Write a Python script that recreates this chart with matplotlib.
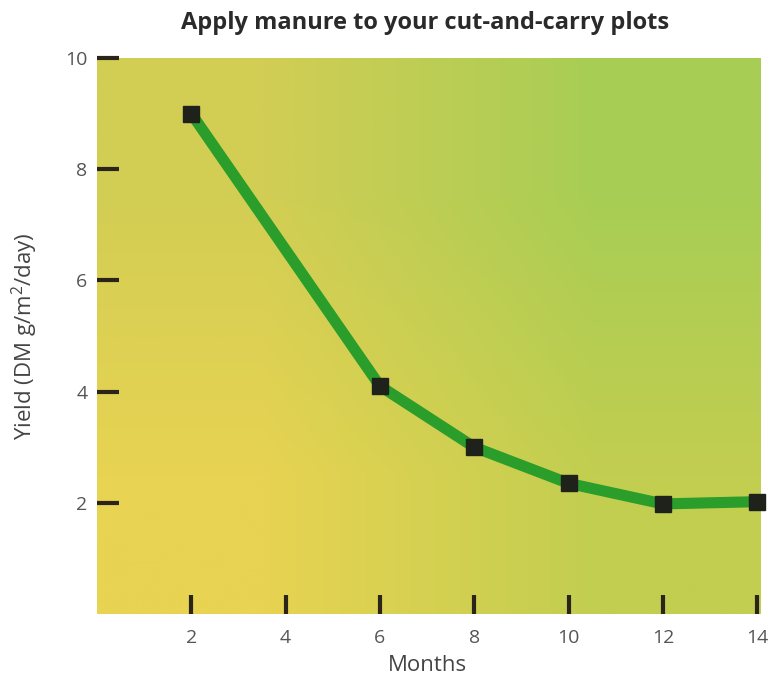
import numpy as np
import matplotlib
matplotlib.use("Agg")
import matplotlib.pyplot as plt

# data
months = [2, 6, 8, 10, 12, 14]
yield_dm = [9.0, 4.1, 3.0, 2.35, 1.98, 2.02]
x_ticks = [2, 4, 6, 8, 10, 12, 14]
y_ticks = [2, 4, 6, 8, 10]

title = "Apply manure to your cut-and-carry plots"
x_label = "Months"
y_label = "Yield (DM g/m$^2$/day)"

plt.rcParams['font.family'] = ['Open Sans', 'DejaVu Sans']
plt.rcParams['mathtext.fontset'] = 'custom'
plt.rcParams['mathtext.rm'] = 'Open Sans'

fig = plt.figure(figsize=(7.76, 6.79), dpi=100)
ax = fig.add_axes([97 / 776, 1 - 614 / 679, (761 - 97) / 776, (614 - 58) / 679])

# gradient background: yellow bottom-left -> green top-right
corners = np.array([
    [[232, 211, 82], [194, 206, 80]],   # bottom row: left, right
    [[210, 206, 84], [168, 205, 84]],   # top row: left, right
]) / 255.0
ax.imshow(corners, extent=[0, 14.08, 0, 10], origin='lower', aspect='auto',
          interpolation='bilinear', zorder=0)

ax.plot(months, yield_dm, color='#2a9d2a', lw=8, solid_joinstyle='round',
        zorder=2, clip_on=False)
ax.plot(months, yield_dm, ls='none', marker='s', ms=12, mfc='#1e221a',
        mec='#1e221a', zorder=3, clip_on=False)

ax.set_xlim(0, 14.08)
ax.set_ylim(0, 10)
ax.set_xticks(x_ticks)
ax.set_yticks(y_ticks)

for s in ax.spines.values():
    s.set_visible(False)

ax.tick_params(axis='both', direction='in', color='#2b2418', width=3,
               labelsize=14, labelcolor='#555555')
ax.tick_params(axis='y', length=16, pad=7)
ax.tick_params(axis='x', length=14, pad=11)

ax.set_xlabel(x_label, fontsize=16, color='#444444')
ax.set_ylabel(y_label, fontsize=16, color='#444444')
ax.xaxis.set_label_coords(0.497, -0.092)
ax.yaxis.set_label_coords(-0.108, 0.5)
ax.xaxis.label.set_va('center')
ax.yaxis.label.set_va('center')
fig.text(0.548, 1 - 23 / 679, title, ha='center', va='center',
         fontsize=17, fontweight='bold', color='#2a2a2a')

fig.savefig("out.png", dpi=100)
